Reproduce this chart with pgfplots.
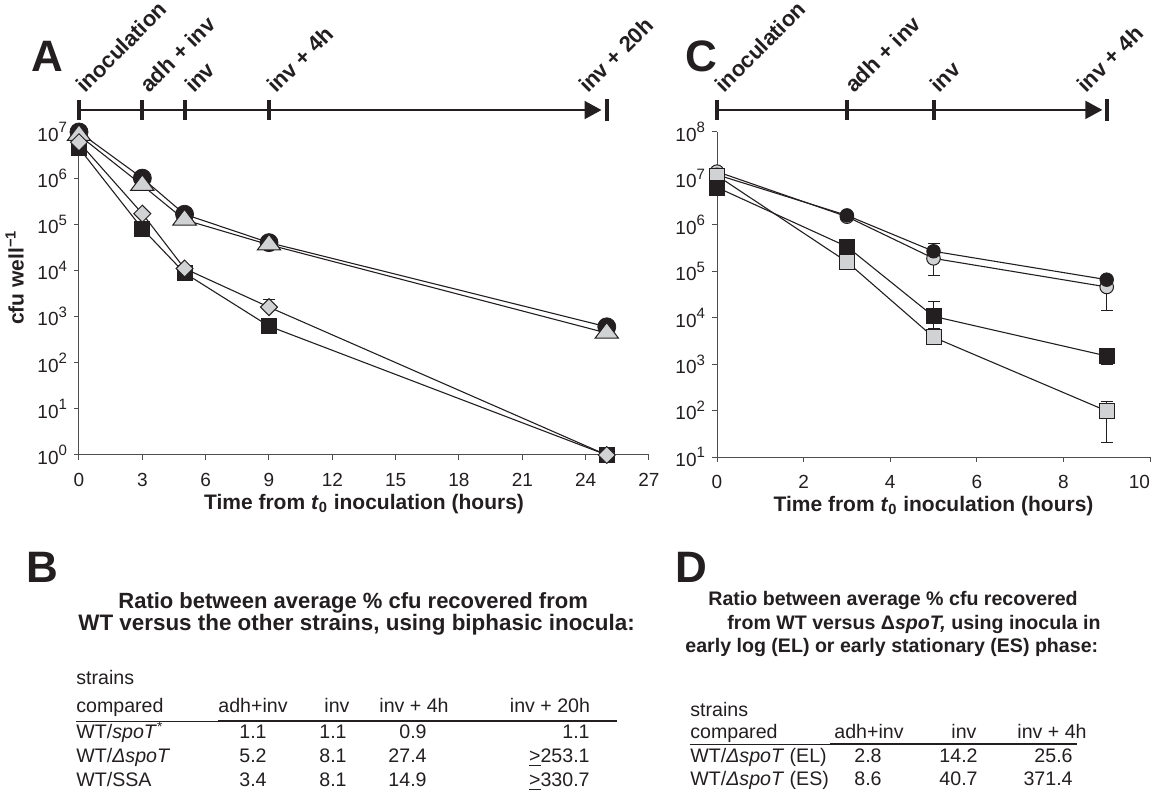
\documentclass[border=0pt]{standalone}
\usepackage{fontspec}
\setmainfont{Liberation Sans}
\usepackage{pgfplots}
\pgfplotsset{compat=1.18}
\usetikzlibrary{arrows.meta}

\definecolor{ink}{HTML}{231F20}
\definecolor{fillgray}{HTML}{D1D2D4}
\definecolor{axisgray}{HTML}{4D4D4F}

\newcommand{\fs}[1]{\fontsize{#1}{#1}\selectfont}
\newcommand{\pw}[1]{10\raisebox{0.45em}{\fs{7.5}#1}}

\pgfplotsset{
  /pgf/number format/assume math mode=true,
  every axis/.append style={
    scale only axis,
    axis lines=left, axis line style={axisgray, line width=0.5pt, -},
    tick align=outside, major tick length=2.5pt,
    tick style={axisgray, line width=0.5pt},
    minor tick length=0pt, minor tick style={draw=none},
    clip=false,
    ticklabel style={font=\fs{9.5}, text=ink},
    xticklabel style={yshift=-3pt},
    label style={font=\bfseries\fs{10.5}, text=ink},
    xlabel style={yshift=3pt},
  },
  blk/.style={ink, line width=0.55pt, mark options={fill=ink, draw=ink, line width=0.4pt, solid}},
  gry/.style={ink, line width=0.55pt, mark options={fill=fillgray, draw=ink, line width=0.5pt, solid}},
  ebar/.style={error bars/y dir=both, error bars/y explicit, error bars/error mark=-,
    error bars/error bar style={ink, line width=0.5pt},
    error bars/error mark options={rotate=90, ink, line width=0.5pt, mark size=3pt}},
}
\tikzset{
  tl/.style={line width=1pt, ink},
  tlbar/.style={line width=2pt, ink},
  tllab/.style={rotate=45, anchor=base west, inner sep=0pt, font=\bfseries\fs{11}, text=ink},
  tb/.style={font=\fs{9.8}, text=ink, inner sep=0pt, yshift=-1pt},
}

\begin{document}
\begin{tikzpicture}
\begin{scope}[x=0.5pt, y=-0.5pt]
  \coordinate (A0) at (79,455);
  \coordinate (C0) at (717,457);
  % panel letters
  \node[font=\bfseries\fs{22}, text=ink, inner sep=0pt] at (47,56) {A};
  \node[font=\bfseries\fs{22}, text=ink, inner sep=0pt] at (701,56) {C};
  \node[font=\bfseries\fs{22}, text=ink, inner sep=0pt] at (42,567) {B};
  \node[font=\bfseries\fs{22}, text=ink, inner sep=0pt] at (691,567) {D};

  % table B
  \node[tb, font=\bfseries\fs{11}, anchor=mid west] at (118,601) {Ratio between average \% cfu recovered from};
  \node[tb, font=\bfseries\fs{11.2}, anchor=mid west] at (78,623) {WT versus the other strains, using biphasic inocula:};
  \node[tb, anchor=mid west] at (76,677) {strains};
  \node[tb, anchor=mid west] at (76,705) {compared};
  \node[tb, anchor=mid] at (253,705) {adh+inv};
  \node[tb, anchor=mid] at (337,705) {inv};
  \node[tb, anchor=mid] at (414,705) {inv + 4h};
  \node[tb, anchor=mid] at (550,705) {inv + 20h};
  \draw[ink, line width=0.5pt] (76,721) -- (218,721);
  \draw[ink, line width=1pt] (218,721) -- (617,721);
  \node[tb, anchor=mid west] at (76,731) {WT/\textit{spoT}\textsuperscript{*}};
  \node[tb, anchor=mid west] at (76,755) {WT/\textit{ΔspoT}};
  \node[tb, anchor=mid west] at (76,779) {WT/SSA};
  \node[tb, anchor=mid east] at (267,731) {1.1};
  \node[tb, anchor=mid east] at (267,755) {5.2};
  \node[tb, anchor=mid east] at (267,779) {3.4};
  \node[tb, anchor=mid east] at (347,731) {1.1};
  \node[tb, anchor=mid east] at (347,755) {8.1};
  \node[tb, anchor=mid east] at (347,779) {8.1};
  \node[tb, anchor=mid east] at (427,731) {0.9};
  \node[tb, anchor=mid east] at (427,755) {27.4};
  \node[tb, anchor=mid east] at (427,779) {14.9};
  \node[tb, anchor=mid east] at (590,731) {1.1};
  \node[tb, anchor=mid east] at (590,755) {\underline{>}253.1};
  \node[tb, anchor=mid east] at (590,779) {\underline{>}330.7};

  % table D
  \node[tb, font=\bfseries\fs{9.8}, anchor=mid west] at (708,598) {Ratio between average \% cfu recovered};
  \node[tb, font=\bfseries\fs{9.8}, anchor=mid west] at (727,622) {from WT versus Δ\textit{spoT,} using inocula in};
  \node[tb, font=\bfseries\fs{9.8}, anchor=mid west] at (685,645) {early log (EL) or early stationary (ES) phase:};
  \node[tb, anchor=mid west] at (690,709) {strains};
  \node[tb, anchor=mid west] at (690,731) {compared};
  \node[tb, anchor=mid] at (869,731) {adh+inv};
  \node[tb, anchor=mid] at (964,731) {inv};
  \node[tb, anchor=mid] at (1052,731) {inv + 4h};
  \draw[ink, line width=0.5pt] (690,744) -- (830,744);
  \draw[ink, line width=1pt] (830,744) -- (1077,744);
  \node[tb, anchor=mid west] at (690,755) {WT/\textit{ΔspoT} (EL)};
  \node[tb, anchor=mid west] at (690,778) {WT/\textit{ΔspoT} (ES)};
  \node[tb, anchor=mid east] at (882,755) {2.8};
  \node[tb, anchor=mid east] at (882,778) {8.6};
  \node[tb, anchor=mid east] at (978,755) {14.2};
  \node[tb, anchor=mid east] at (978,778) {40.7};
  \node[tb, anchor=mid east] at (1073,755) {25.6};
  \node[tb, anchor=mid east] at (1073,778) {371.4};
\end{scope}

% panel A
\begin{axis}[at={(A0)}, anchor=south west, width=285pt, height=161.5pt,
  ymode=log,
  xmin=0, xmax=27, ymin=1, ymax=1e7,
  xtick={0,3,...,27},
  ytick={1e0,1e1,1e2,1e3,1e4,1e5,1e6,1e7},
  yticklabels={\pw{0},\pw{1},\pw{2},\pw{3},\pw{4},\pw{5},\pw{6},\pw{7}},
  xlabel={Time from \textit{t}\textsubscript{0} inoculation (hours)},
  ylabel={cfu well\textsuperscript{−1}},
  ylabel style={at={(ticklabel cs:0.55)}},
]
\addplot[blk, mark=*, mark size=4.5pt] coordinates {(0,1.0e7) (3,1.0e6) (5,1.65e5) (9,4.0e4) (25,6.0e2)};
\addplot[ink, line width=0.55pt, mark=triangle*, mark size=5.2pt,
  mark options={fill=fillgray, draw=ink, line width=0.5pt, solid, xscale=1.3}]
  coordinates {(0,8.5e6) (3,7.0e5) (5,1.25e5) (9,3.6e4) (25,4.4e2)};
\addplot[blk, mark=square*, mark size=3.75pt] coordinates {(0,4.5e6) (3,8.0e4) (5,8.8e3) (9,6.2e2) (25,1)};
\addplot[ink, line width=0.55pt, mark=square*, mark size=3pt,
  mark options={fill=fillgray, draw=ink, line width=0.5pt, solid, rotate=45}, ebar]
  coordinates {(0,6.0e6) (3,1.7e5) (5,1.1e4) (9,1.6e3) += (0,700) -= (0,0) (25,1)};
% timeline
\draw[tl, -{Triangle[length=8.5pt,width=9pt]}] (rel axis cs:0,1.068) -- (rel axis cs:0.9167,1.068);
\draw[tlbar] (rel axis cs:0,1.037) -- (rel axis cs:0,1.099);
\draw[tlbar] (rel axis cs:0.1111,1.037) -- (rel axis cs:0.1111,1.099);
\draw[tlbar] (rel axis cs:0.1852,1.037) -- (rel axis cs:0.1852,1.099);
\draw[tlbar] (rel axis cs:0.3333,1.037) -- (rel axis cs:0.3333,1.099);
\draw[tlbar] (rel axis cs:0.9259,1.034) -- (rel axis cs:0.9259,1.102);
\node[tllab] at (rel axis cs:0.0105,1.117) {inoculation};
\node[tllab] at (rel axis cs:0.1225,1.117) {adh + inv};
\node[tllab] at (rel axis cs:0.2015,1.117) {inv};
\node[tllab] at (rel axis cs:0.3455,1.117) {inv + 4h};
\node[tllab] at (rel axis cs:0.8926,1.117) {inv + 20h};
\end{axis}

% panel C
\begin{axis}[at={(C0)}, anchor=south west, width=216.5pt, height=162.5pt,
  ymode=log,
  xmin=0, xmax=10, ymin=10, ymax=1e8,
  xtick={0,2,...,10},
  xticklabels={0,2,4,6,8,\makebox[0pt][r]{10}},
  ytick={1e1,1e2,1e3,1e4,1e5,1e6,1e7,1e8},
  yticklabels={\pw{1},\pw{2},\pw{3},\pw{4},\pw{5},\pw{6},\pw{7},\pw{8}},
  xlabel={Time from \textit{t}\textsubscript{0} inoculation (hours)},
]
\addplot[gry, mark=*, mark size=3.4pt, ebar] coordinates {(0,1.4e7) (3,1.5e6) (5,1.9e5) += (0,0) -= (0,1.1e5) (9,4.6e4) += (0,0) -= (0,3.15e4)};
\addplot[blk, mark=*, mark size=3.4pt, ebar] coordinates {(0,1.2e7) (3,1.6e6) (5,2.7e5) += (0,1.3e5) -= (0,0) (9,6.6e4)};
\addplot[gry, mark=square*, mark size=3.75pt, ebar] coordinates {(0,1.15e7) (3,1.6e5) (5,3.8e3) (9,98) += (0,62) -= (0,77)};
\addplot[blk, mark=square*, mark size=3.75pt, ebar] coordinates {(0,6.4e6) (3,3.4e5) (5,1.07e4) += (0,1.13e4) -= (0,4.7e3) (9,1.5e3) += (0,0) -= (0,5e2)};
% timeline
\draw[tl, -{Triangle[length=8.5pt,width=9pt]}] (rel axis cs:0,1.068) -- (rel axis cs:0.89,1.068);
\draw[tlbar] (rel axis cs:0,1.037) -- (rel axis cs:0,1.099);
\draw[tlbar] (rel axis cs:0.3,1.037) -- (rel axis cs:0.3,1.099);
\draw[tlbar] (rel axis cs:0.5,1.037) -- (rel axis cs:0.5,1.099);
\draw[tlbar] (rel axis cs:0.9,1.034) -- (rel axis cs:0.9,1.102);
\node[tllab] at (rel axis cs:0.016,1.117) {inoculation};
\node[tllab] at (rel axis cs:0.3165,1.117) {adh + inv};
\node[tllab] at (rel axis cs:0.513,1.117) {inv};
\node[tllab] at (rel axis cs:0.852,1.117) {inv + 4h};
\end{axis}

% fix the page to the reference's size
\pgfresetboundingbox
\useasboundingbox (0pt,0pt) rectangle (576pt,-398pt);
\end{tikzpicture}
\end{document}
